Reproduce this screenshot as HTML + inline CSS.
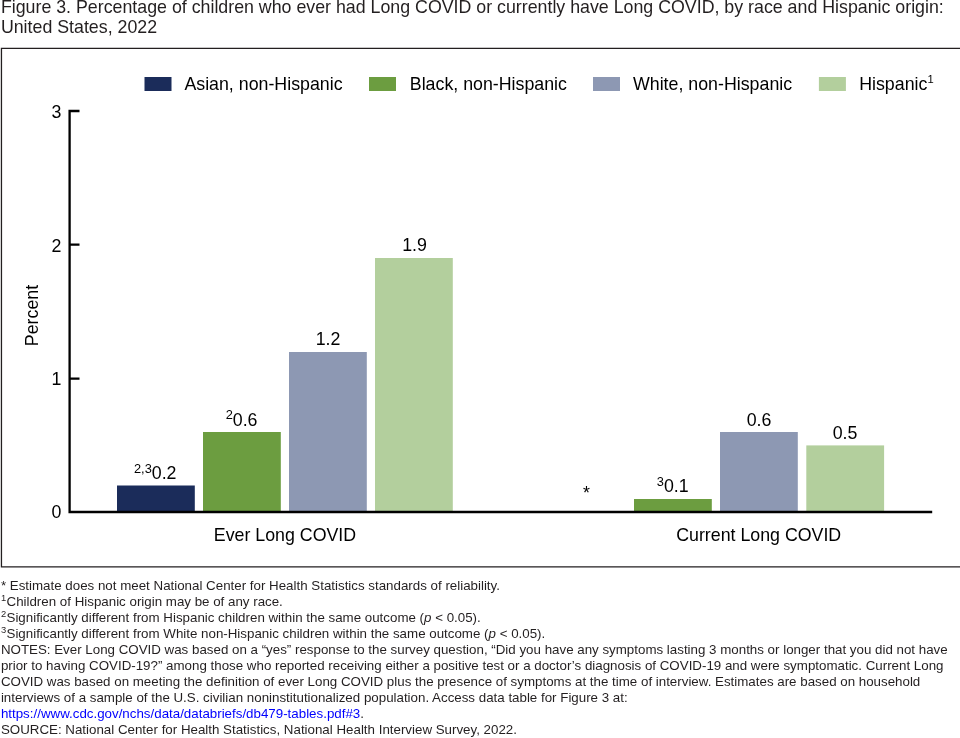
<!DOCTYPE html>
<html lang="en">
<head>
<meta charset="utf-8">
<title>Figure 3</title>
<style>
html,body{margin:0;padding:0;background:#fff;}
body{width:960px;height:738px;position:relative;overflow:hidden;font-family:"Liberation Sans",Arial,Helvetica,sans-serif;color:#231f20;}
#title{position:absolute;left:0.9px;top:-2.6px;font-size:17.8px;line-height:20px;white-space:nowrap;}
#chart{position:absolute;left:0;top:0;width:960px;height:738px;}
#chart text{font-family:"Liberation Sans",Arial,Helvetica,sans-serif;fill:#000;font-size:17.8px;}
#notes{position:absolute;left:0.9px;top:577.5px;font-size:13.342px;line-height:16px;white-space:nowrap;}
#notes sup{font-size:9.4px;line-height:0;vertical-align:baseline;position:relative;top:-4.3px;margin-right:0.4px;}
#notes a{color:#0000ff;text-decoration:none;}
.s{font-size:12.8px;}
</style>
</head>
<body>
<div id="title">Figure 3. Percentage of children who ever had Long COVID or currently have Long COVID, by race and Hispanic origin:<br>United States, 2022</div>
<svg id="chart" width="960" height="738" viewBox="0 0 960 738">
  <path d="M970 48.35H1.45V566.8H970" fill="none" stroke="#231f20" stroke-width="1.3"/>
  <!-- legend -->
  <rect x="144.5" y="77" width="27" height="14" fill="#1b2c5a"/>
  <text x="184.4" y="90">Asian, non-Hispanic</text>
  <rect x="369" y="77" width="27" height="14" fill="#6c9d40"/>
  <text x="409.8" y="90">Black, non-Hispanic</text>
  <rect x="593" y="77" width="27" height="14" fill="#8d98b3"/>
  <text x="633" y="90">White, non-Hispanic</text>
  <rect x="818.9" y="77" width="27" height="14" fill="#b3cf9d"/>
  <text x="859.2" y="90">Hispanic<tspan dy="-6.7" font-size="11.2">1</tspan></text>

  <!-- bars -->
  <rect x="117" y="485.5" width="77.8" height="26.5" fill="#1b2c5a"/>
  <rect x="203" y="432" width="77.8" height="80" fill="#6c9d40"/>
  <rect x="289" y="352" width="77.8" height="160" fill="#8d98b3"/>
  <rect x="375" y="258" width="77.8" height="254" fill="#b3cf9d"/>
  <rect x="634" y="499" width="77.8" height="13" fill="#6c9d40"/>
  <rect x="720" y="432" width="77.8" height="80" fill="#8d98b3"/>
  <rect x="806.3" y="445.4" width="77.8" height="66.6" fill="#b3cf9d"/>

  <!-- axes -->
  <path d="M79.5 111H69.6V512H932.2" fill="none" stroke="#000" stroke-width="2.3"/>
  <path d="M69.6 244.6H79.5M69.6 378.6H79.5" fill="none" stroke="#000" stroke-width="2.3"/>

  <!-- tick labels -->
  <text x="61.5" y="118.4" text-anchor="end">3</text>
  <text x="61.5" y="251.8" text-anchor="end">2</text>
  <text x="61.5" y="384.7" text-anchor="end">1</text>
  <text x="61.5" y="517.6" text-anchor="end">0</text>
  <text transform="translate(38 315.5) rotate(-90)" text-anchor="middle">Percent</text>

  <!-- value labels -->
  <text x="176.5" y="478.5" text-anchor="end"><tspan class="s" dy="-5.5">2,3</tspan><tspan dy="5.5">0.2</tspan></text>
  <text x="257.5" y="425.8" text-anchor="end"><tspan class="s" dy="-6.5">2</tspan><tspan dy="6.5">0.6</tspan></text>
  <text x="328" y="344.7" text-anchor="middle">1.2</text>
  <text x="414.5" y="250.7" text-anchor="middle">1.9</text>
  <text x="586.4" y="499.4" text-anchor="middle">*</text>
  <text x="688.6" y="492.3" text-anchor="end"><tspan class="s" dy="-6.2">3</tspan><tspan dy="6.2">0.1</tspan></text>
  <text x="759" y="426.2" text-anchor="middle">0.6</text>
  <text x="845" y="439.3" text-anchor="middle">0.5</text>

  <!-- category labels -->
  <text x="285" y="541" text-anchor="middle">Ever Long COVID</text>
  <text x="758.7" y="541" text-anchor="middle">Current Long COVID</text>
</svg>
<div id="notes">* Estimate does not meet National Center for Health Statistics standards of reliability.<br>
<sup>1</sup>Children of Hispanic origin may be of any race.<br>
<sup>2</sup>Significantly different from Hispanic children within the same outcome (<i>p</i> &lt; 0.05).<br>
<sup>3</sup>Significantly different from White non-Hispanic children within the same outcome (<i>p</i> &lt; 0.05).<br>
NOTES: Ever Long COVID was based on a “yes” response to the survey question, “Did you have any symptoms lasting 3 months or longer that you did not have<br>
prior to having COVID-19?” among those who reported receiving either a positive test or a doctor’s diagnosis of COVID-19 and were symptomatic. Current Long<br>
COVID was based on meeting the definition of ever Long COVID plus the presence of symptoms at the time of interview. Estimates are based on household<br>
interviews of a sample of the U.S. civilian noninstitutionalized population. Access data table for Figure 3 at:<br>
<a>https://www.cdc.gov/nchs/data/databriefs/db479-tables.pdf#3</a>.<br>
SOURCE: National Center for Health Statistics, National Health Interview Survey, 2022.</div>
</body>
</html>
